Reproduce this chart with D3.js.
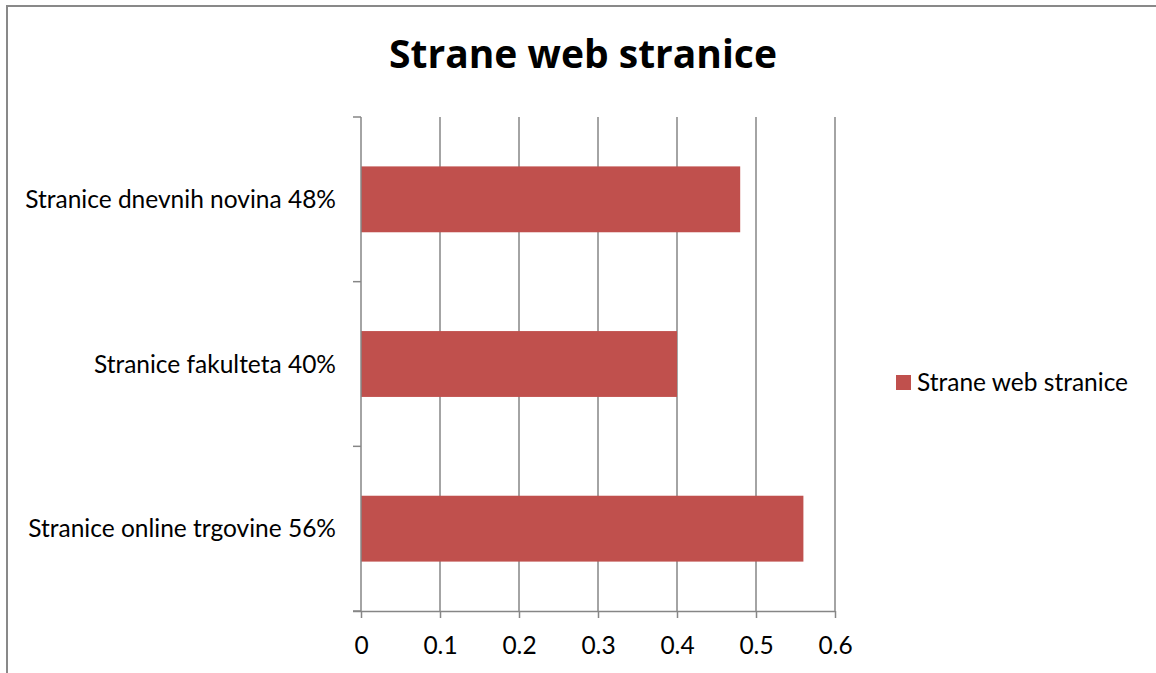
<!DOCTYPE html>
<html>
<head>
<meta charset="utf-8">
<script src="https://cdn.jsdelivr.net/npm/d3@7"></script>
<style>
	body { margin: 0; background: #fff; }
	text { font-family: Lato, "Open Sans", sans-serif; fill: #000; }
</style>
</head>
<body>
<div id="chart"></div>
<script>
// chart data
const categories = ["Stranice dnevnih novina 48%", "Stranice fakulteta 40%", "Stranice online trgovine 56%"];
const values = [0.48, 0.40, 0.56];
const xTicks = [0, 0.1, 0.2, 0.3, 0.4, 0.5, 0.6];
const seriesName = "Strane web stranice";
const chartTitle = "Strane web stranice";

(function (d3) {
	"use strict";
	const width = 1156, height = 673;
	const plot = { left: 361, right: 835, top: 117, bottom: 611 };
	const fontSize = "24.5px";

	const svg = d3.select("#chart").append("svg")
		.attr("width", width)
		.attr("height", height);

	// outer frame (only top and left visible)
	svg.append("path")
		.attr("d", "M7,680V6H1160")
		.attr("fill", "none")
		.attr("stroke", "#898989")
		.attr("stroke-width", 2);

	const x = d3.scaleLinear().domain([0, 0.6]).range([plot.left, plot.right]);
	const y = d3.scaleBand().domain(categories).range([plot.top, plot.bottom]).paddingInner(0.6).paddingOuter(0.3);
	const yEdges = d3.scaleLinear().domain([0, categories.length]).range([plot.top, plot.bottom]);

	// vertical gridlines
	svg.append("g")
		.selectAll("line")
		.data(xTicks.slice(1))
		.join("line")
		.attr("x1", d => x(d)).attr("x2", d => x(d))
		.attr("y1", plot.top).attr("y2", plot.bottom)
		.attr("stroke", "#868686")
		.attr("stroke-width", 1.5);

	// bars
	svg.append("g")
		.selectAll("rect")
		.data(values)
		.join("rect")
		.attr("x", x(0))
		.attr("y", (d, i) => y(categories[i]))
		.attr("width", d => x(d) - x(0))
		.attr("height", y.bandwidth())
		.attr("fill", "#C0504D");

	// x axis
	const xAxis = svg.append("g")
		.attr("transform", "translate(0," + plot.bottom + ")")
		.call(d3.axisBottom(x).tickValues(xTicks).tickFormat(d3.format("")).tickSize(7).tickPadding(19).tickSizeOuter(0));
	xAxis.select(".domain").attr("d", "M" + (plot.left - 8) + ",0.5H" + plot.right);
	xAxis.selectAll("line, .domain").attr("stroke", "#868686").attr("stroke-width", 1.5);
	xAxis.selectAll("text").style("font-size", fontSize).attr("font-family", null);

	// y axis
	const yAxis = svg.append("g").attr("transform", "translate(" + plot.left + ",0)");
	yAxis.append("line")
		.attr("x1", 0).attr("x2", 0)
		.attr("y1", plot.top).attr("y2", plot.bottom)
		.attr("stroke", "#868686").attr("stroke-width", 1.5);
	yAxis.selectAll(".tick")
		.data(d3.range(categories.length + 1))
		.join("line")
		.attr("x1", -8).attr("x2", 0)
		.attr("y1", d => yEdges(d)).attr("y2", d => yEdges(d))
		.attr("stroke", "#868686").attr("stroke-width", 1.5);
	yAxis.selectAll(".lbl")
		.data(categories)
		.join("text")
		.attr("x", -25)
		.attr("y", d => y(d) + y.bandwidth() / 2)
		.attr("dy", "0.35em")
		.attr("text-anchor", "end")
		.style("font-size", fontSize)
		.text(d => d);

	// title
	svg.append("text")
		.attr("x", 583)
		.attr("y", 68)
		.attr("text-anchor", "middle")
		.style("font-family", "'Open Sans', sans-serif")
		.style("font-size", "39px")
		.style("font-weight", "bold")
		.text(chartTitle);

	// legend
	const legend = svg.append("g").attr("transform", "translate(896,375)");
	legend.append("rect").attr("width", 15).attr("height", 15).attr("fill", "#C0504D");
	legend.append("text")
		.attr("x", 21).attr("y", 7.5)
		.attr("dy", "0.35em")
		.style("font-size", fontSize)
		.text(seriesName);
})(d3);
</script>
</body>
</html>
